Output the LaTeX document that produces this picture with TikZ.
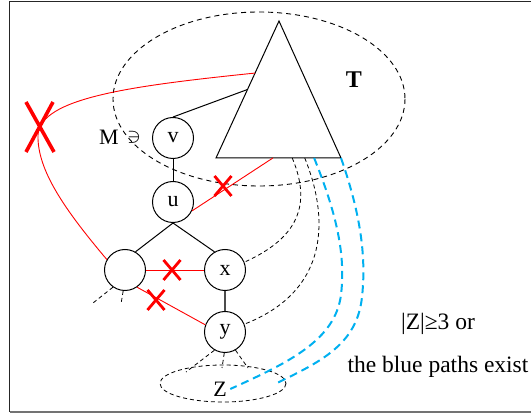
\documentclass[tikz,border=0pt]{standalone}
\usepackage{fontspec}
\setmainfont{Liberation Serif}
\usetikzlibrary{calc}
\definecolor{pathblue}{RGB}{0,176,240}
\begin{document}
\begin{tikzpicture}[x=1pt,y=-1pt,
  vtx/.style={circle,draw,line width=1pt,minimum size=41pt,inner sep=0pt,font=\fontsize{22}{26}\selectfont},
  edge/.style={line width=1pt},
  redline/.style={red,line width=0.9pt},
  dsh/.style={dash pattern=on 4pt off 3pt,line width=0.8pt},
  bigdsh/.style={dash pattern=on 5pt off 4pt,line width=0.9pt},
  bluepath/.style={pathblue,line width=2pt,dash pattern=on 8pt off 5pt},
  lbl/.style={font=\fontsize{22}{26}\selectfont},
  txt/.style={font=\fontsize{23.5}{28}\selectfont},
  redx/.pic={\draw[red,line width=2.8pt] (-8.5,-10) -- (8.5,10) (-8.5,10) -- (8.5,-10);},
  bigredx/.pic={\draw[red,line width=3.6pt] (-14,-25) -- (14,25) (13,-25) -- (-14,25);}]
\useasboundingbox (0,0) rectangle (531,414);
% frame
\draw[line width=1.2pt,black!85] (540,1.5) -- (9.5,1.5) -- (9.5,412);
\draw[line width=2pt,black!55] (9.5,412) -- (540,412);
% big ellipse T
\draw[bigdsh] (259,99) ellipse [x radius=146, y radius=87];
\node[font=\bfseries\fontsize{24}{28}\selectfont] (Tlab) at (354,80) {T};
% triangle
\coordinate (A) at (279,21);
\coordinate (BL) at (216,158);
\coordinate (BR) at (341,158);
\draw[edge] (A) -- (BL) -- (BR) -- cycle;
\coordinate (Tv) at ($(A)!0.5!(BL)$);
\coordinate (Tr) at ($(A)!0.38!(BL)$);
\coordinate (Tu) at ($(BL)!0.455!(BR)$);
\coordinate (Tb1) at ($(BL)!0.61!(BR)$);
\coordinate (Tb2) at ($(BL)!0.71!(BR)$);
\coordinate (Tb3) at ($(BL)!0.785!(BR)$);
% nodes
\node[vtx] (v) at (173,138) {v};
\node[vtx] (u) at (173,202) {u};
\node[vtx] (L) at (125,270) {};
\node[vtx] (x) at (225,270) {x};
\node[vtx] (y) at (225,332) {y};
\node[lbl] (M) at (109,137) {M};
\node[lbl] (ni) at (134,137) {$\ni$};
% black edges
\draw[edge] (v.north) -- (Tv);
\draw[edge] (v) -- (u);
\draw[edge] (u.south) -- (L.60);
\draw[edge] (u.south) -- (x.120);
\draw[line width=2pt,black!70] (x) -- (y);
% red edges
\draw[redline] (u.-25) -- (Tu) pic at (223,186) {redx};
\draw[redline] (L) -- (x) pic at (172,270) {redx};
\draw[redline] (L.-55) -- (y.160) pic at (156,300) {redx};
\draw[redline] (Tr) .. controls (130,86) and (40,98) .. (38,135)
  .. controls (37,170) and (65,210) .. (L.150);
\pic at (40,127) {bigredx};
% dashed stubs
\coordinate (Ld1) at (93,303);
\coordinate (Ld2) at (121,304);
\draw[dsh] (L.-125) -- (Ld1);
\draw[dsh] (L.-95) -- (Ld2);
\coordinate (Yd1) at (186,372);
\coordinate (Yd2) at (222,368);
\coordinate (Yd3) at (248,368);
\draw[dsh] (y.-120) -- (Yd1);
\draw[dsh] (y.-92) -- (Yd2);
\draw[dsh] (y.-60) -- (Yd3);
% Z ellipse
\draw[dsh] (223,383.5) ellipse [x radius=63, y radius=18.5];
\node[lbl] (Z) at (220,389) {Z};
% black dashed curves
\draw[dsh] (Tb1) .. controls (312,205) and (298,238) .. (x.22);
\draw[dsh] (Tb2) .. controls (328,215) and (332,290) .. (y.22);
% blue paths
\coordinate (Zb) at (275,384);
\draw[bluepath] (Tb3) .. controls (340,222) and (345,260) .. (341,295)
  .. controls (335,340) and (290,362) .. (Z.east);
\draw[bluepath] (BR) .. controls (362,218) and (366,260) .. (362,297)
  .. controls (357,345) and (320,362) .. (Zb);
% texts
\node[txt] (t1) at (438,324) {|Z|≥3 or};
\node[txt] (t2) at (438,367) {the blue paths exist};
\end{tikzpicture}
\end{document}
